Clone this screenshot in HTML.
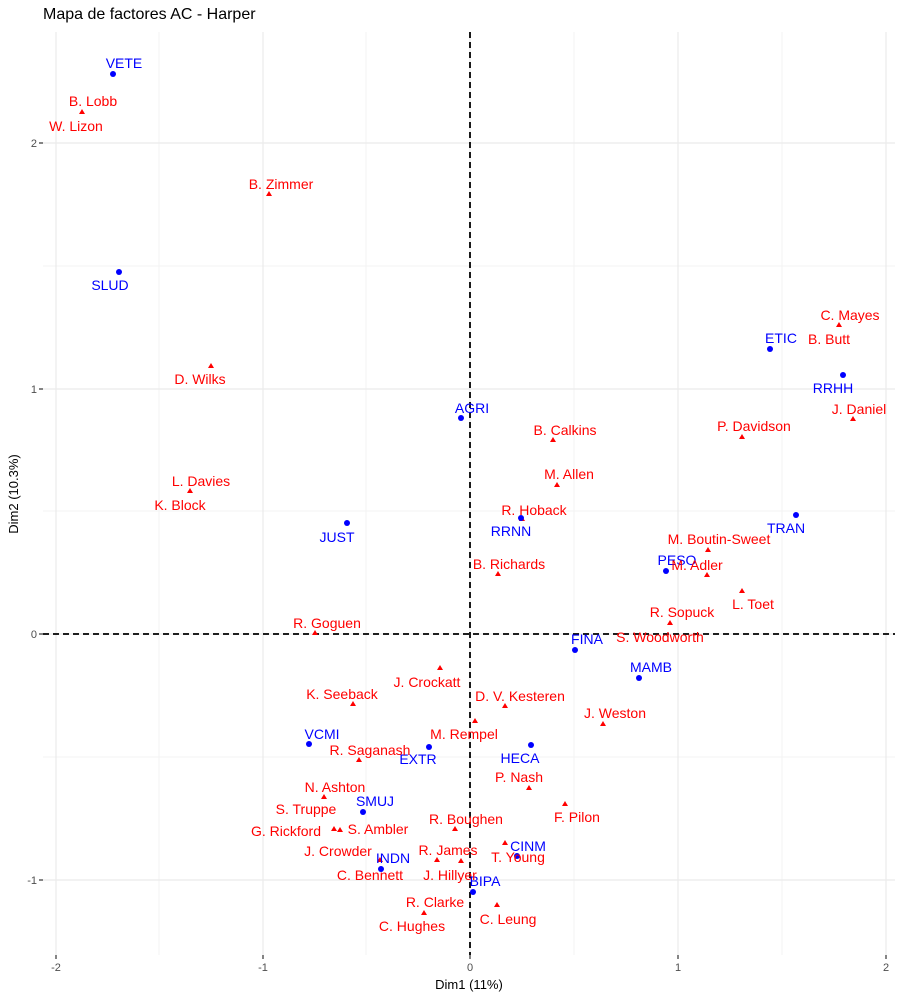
<!DOCTYPE html>
<html><head><meta charset="utf-8"><style>
body{margin:0;background:#fff}
svg text{font-family:"Liberation Sans",sans-serif}
</style></head><body>
<svg width="900" height="1000" viewBox="0 0 900 1000" xmlns="http://www.w3.org/2000/svg">
<rect width="900" height="1000" fill="#fff"/>
<g stroke="#f3f3f3" stroke-width="1">
<line x1="159" y1="32" x2="159" y2="955"/><line x1="366" y1="32" x2="366" y2="955"/><line x1="574" y1="32" x2="574" y2="955"/><line x1="782" y1="32" x2="782" y2="955"/>
<line x1="43" y1="266" x2="895" y2="266"/><line x1="43" y1="511" x2="895" y2="511"/><line x1="43" y1="757" x2="895" y2="757"/>
</g>
<g stroke="#ebebeb" stroke-width="1.2">
<line x1="56" y1="32" x2="56" y2="955"/><line x1="263" y1="32" x2="263" y2="955"/><line x1="470" y1="32" x2="470" y2="955"/><line x1="678" y1="32" x2="678" y2="955"/><line x1="886" y1="32" x2="886" y2="955"/>
<line x1="43" y1="143" x2="895" y2="143"/><line x1="43" y1="389" x2="895" y2="389"/><line x1="43" y1="634" x2="895" y2="634"/><line x1="43" y1="880" x2="895" y2="880"/>
</g>
<g stroke="#000" stroke-width="1.8" stroke-dasharray="6,4">
<line x1="470" y1="32" x2="470" y2="955"/><line x1="43" y1="634" x2="895" y2="634"/>
</g>
<g stroke="#333" stroke-width="1.2">
<line x1="39" y1="143" x2="43" y2="143"/><line x1="39" y1="389" x2="43" y2="389"/><line x1="39" y1="634" x2="43" y2="634"/><line x1="39" y1="880" x2="43" y2="880"/>
<line x1="56" y1="955" x2="56" y2="959"/><line x1="263" y1="955" x2="263" y2="959"/><line x1="470" y1="955" x2="470" y2="959"/><line x1="678" y1="955" x2="678" y2="959"/><line x1="886" y1="955" x2="886" y2="959"/>
</g>
<g font-size="11" fill="#4d4d4d">
<g text-anchor="end"><text x="37" y="147">2</text><text x="37" y="393">1</text><text x="37" y="638">0</text><text x="37" y="884">-1</text></g>
<g text-anchor="middle"><text x="56" y="971">-2</text><text x="263" y="971">-1</text><text x="470" y="971">0</text><text x="678" y="971">1</text><text x="886" y="971">2</text></g>
</g>
<text x="469" y="989" font-size="13" text-anchor="middle" fill="#000">Dim1 (11%)</text>
<text x="18" y="494" font-size="13" text-anchor="middle" fill="#000" transform="rotate(-90 18 494)">Dim2 (10.3%)</text>
<text x="43" y="19" font-size="16" fill="#000">Mapa de factores AC - Harper</text>
<g fill="red">
<path d="M82 109l3 5h-6z"/><path d="M269 191l3 5h-6z"/><path d="M839 322l3 5h-6z"/><path d="M211 363l3 5h-6z"/><path d="M853 416l3 5h-6z"/><path d="M742 434l3 5h-6z"/><path d="M553 437l3 5h-6z"/><path d="M557 482l3 5h-6z"/><path d="M190 488l3 5h-6z"/><path d="M522 516l3 5h-6z"/><path d="M708 547l3 5h-6z"/><path d="M707 572l3 5h-6z"/><path d="M498 571l3 5h-6z"/><path d="M742 588l3 5h-6z"/><path d="M670 620l3 5h-6z"/><path d="M315 630l3 5h-6z"/><path d="M440 665l3 5h-6z"/><path d="M353 701l3 5h-6z"/><path d="M505 703l3 5h-6z"/><path d="M603 721l3 5h-6z"/><path d="M475 718l3 5h-6z"/><path d="M359 757l3 5h-6z"/><path d="M324 794l3 5h-6z"/><path d="M529 785l3 5h-6z"/><path d="M565 801l3 5h-6z"/><path d="M340 827l3 5h-6z"/><path d="M334 826l3 5h-6z"/><path d="M455 826l3 5h-6z"/><path d="M437 857l3 5h-6z"/><path d="M517 853l3 5h-6z"/><path d="M461 858l3 5h-6z"/><path d="M424 910l3 5h-6z"/><path d="M497 902l3 5h-6z"/><path d="M505 840l3 5h-6z"/><path d="M380 857l3 5h-6z"/>
</g>
<g fill="blue">
<circle cx="113" cy="74" r="3"/><circle cx="119" cy="272" r="3"/><circle cx="461" cy="418" r="3"/><circle cx="347" cy="523" r="3"/><circle cx="770" cy="349" r="3"/><circle cx="843" cy="375" r="3"/><circle cx="796" cy="515" r="3"/><circle cx="521" cy="518" r="3"/><circle cx="666" cy="571" r="3"/><circle cx="575" cy="650" r="3"/><circle cx="639" cy="678" r="3"/><circle cx="531" cy="745" r="3"/><circle cx="309" cy="744" r="3"/><circle cx="429" cy="747" r="3"/><circle cx="363" cy="812" r="3"/><circle cx="517" cy="856" r="3"/><circle cx="381" cy="869" r="3"/><circle cx="473" cy="892" r="3"/>
</g>
<g font-size="14" fill="blue" text-anchor="middle">
<text x="124" y="68">VETE</text><text x="110" y="290">SLUD</text><text x="472" y="413">AGRI</text><text x="337" y="542">JUST</text><text x="781" y="343">ETIC</text><text x="833" y="393">RRHH</text><text x="786" y="533">TRAN</text><text x="511" y="536">RRNN</text><text x="677" y="565">PESO</text><text x="587" y="644">FINA</text><text x="651" y="672">MAMB</text><text x="520" y="763">HECA</text><text x="322" y="739">VCMI</text><text x="418" y="764">EXTR</text><text x="375" y="806">SMUJ</text><text x="528" y="851">CINM</text><text x="393" y="863">INDN</text><text x="485" y="886">BIPA</text>
</g>
<g font-size="14" fill="red" text-anchor="middle">
<text x="93" y="106">B. Lobb</text><text x="76" y="131">W. Lizon</text><text x="281" y="189">B. Zimmer</text><text x="850" y="320">C. Mayes</text><text x="829" y="344">B. Butt</text><text x="200" y="384">D. Wilks</text><text x="859" y="414">J. Daniel</text><text x="754" y="431">P. Davidson</text><text x="565" y="435">B. Calkins</text><text x="569" y="479">M. Allen</text><text x="201" y="486">L. Davies</text><text x="180" y="510">K. Block</text><text x="534" y="515">R. Hoback</text><text x="719" y="544">M. Boutin-Sweet</text><text x="697" y="570">M. Adler</text><text x="509" y="569">B. Richards</text><text x="753" y="609">L. Toet</text><text x="682" y="617">R. Sopuck</text><text x="327" y="628">R. Goguen</text><text x="660" y="642">S. Woodworth</text><text x="427" y="687">J. Crockatt</text><text x="342" y="699">K. Seeback</text><text x="520" y="701">D. V. Kesteren</text><text x="615" y="718">J. Weston</text><text x="464" y="739">M. Rempel</text><text x="370" y="755">R. Saganash</text><text x="335" y="792">N. Ashton</text><text x="519" y="782">P. Nash</text><text x="306" y="814">S. Truppe</text><text x="577" y="822">F. Pilon</text><text x="378" y="834">S. Ambler</text><text x="286" y="836">G. Rickford</text><text x="466" y="824">R. Boughen</text><text x="338" y="856">J. Crowder</text><text x="448" y="855">R. James</text><text x="518" y="862">T. Young</text><text x="370" y="880">C. Bennett</text><text x="450" y="880">J. Hillyer</text><text x="435" y="907">R. Clarke</text><text x="508" y="924">C. Leung</text><text x="412" y="931">C. Hughes</text>
</g>
</svg>
</body></html>
